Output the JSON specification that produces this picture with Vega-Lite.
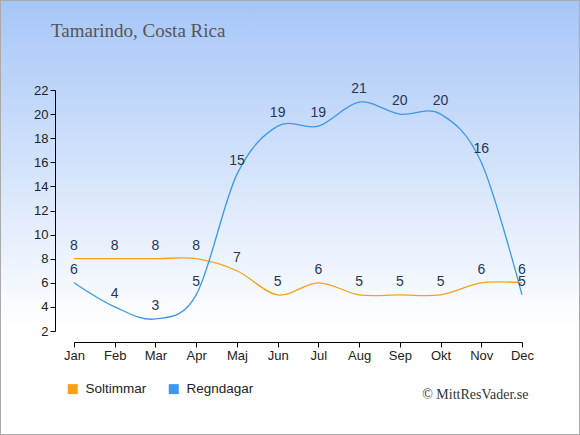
{
  "$schema": "https://vega.github.io/schema/vega-lite/v6.json",
  "width": 580,
  "height": 435,
  "autosize": {"type": "none"},
  "padding": 0,
  "title": {
    "text": "Tamarindo, Costa Rica",
    "anchor": "start",
    "frame": "group",
    "orient": "top",
    "offset": 0,
    "dx": 51,
    "dy": 57,
    "baseline": "alphabetic",
    "font": "Liberation Serif",
    "fontSize": 19,
    "fontWeight": "normal",
    "color": "#555555"
  },
  "data": {
    "values": [
      {"month": "Jan", "series": "Soltimmar", "value": 8},
      {"month": "Feb", "series": "Soltimmar", "value": 8},
      {"month": "Mar", "series": "Soltimmar", "value": 8},
      {"month": "Apr", "series": "Soltimmar", "value": 8},
      {"month": "Maj", "series": "Soltimmar", "value": 7},
      {"month": "Jun", "series": "Soltimmar", "value": 5},
      {"month": "Jul", "series": "Soltimmar", "value": 6},
      {"month": "Aug", "series": "Soltimmar", "value": 5},
      {"month": "Sep", "series": "Soltimmar", "value": 5},
      {"month": "Okt", "series": "Soltimmar", "value": 5},
      {"month": "Nov", "series": "Soltimmar", "value": 6},
      {"month": "Dec", "series": "Soltimmar", "value": 6},
      {"month": "Jan", "series": "Regndagar", "value": 6},
      {"month": "Feb", "series": "Regndagar", "value": 4},
      {"month": "Mar", "series": "Regndagar", "value": 3},
      {"month": "Apr", "series": "Regndagar", "value": 5},
      {"month": "Maj", "series": "Regndagar", "value": 15},
      {"month": "Jun", "series": "Regndagar", "value": 19},
      {"month": "Jul", "series": "Regndagar", "value": 19},
      {"month": "Aug", "series": "Regndagar", "value": 21},
      {"month": "Sep", "series": "Regndagar", "value": 20},
      {"month": "Okt", "series": "Regndagar", "value": 20},
      {"month": "Nov", "series": "Regndagar", "value": 16},
      {"month": "Dec", "series": "Regndagar", "value": 5}
    ]
  },
  "layer": [
    {
      "data": {"values": [{"bg": 1}]},
      "mark": {
        "type": "rect",
        "fill": {
          "gradient": "linear",
          "x1": 0, "y1": 0, "x2": 0, "y2": 1,
          "stops": [
            {"offset": 0, "color": "#a6c6f8"},
            {"offset": 0.75, "color": "#ffffff"},
            {"offset": 1, "color": "#ffffff"}
          ]
        },
        "stroke": "#aaaaaa",
        "strokeWidth": 2
      }
    },
    {
      "mark": {"type": "line", "interpolate": "cardinal", "strokeWidth": 1.3},
      "encoding": {
        "x": {
          "field": "month",
          "type": "ordinal",
          "sort": null,
          "scale": {
            "type": "point",
            "domain": ["Jan", "Feb", "Mar", "Apr", "Maj", "Jun", "Jul", "Aug", "Sep", "Okt", "Nov", "Dec"],
            "range": [74, 522],
            "padding": 0
          },
          "axis": {
            "zindex": 1,
            "offset": -93,
            "labelAngle": 0,
            "labelFont": "Liberation Sans",
            "labelFontSize": 13,
            "labelColor": "#222222",
            "labelPadding": 2,
            "domainColor": "#000000",
            "tickColor": "#000000",
            "tickSize": 5,
            "title": "© MittResVader.se",
            "titleFont": "Liberation Serif",
            "titleFontSize": 14,
            "titleFontWeight": "normal",
            "titleColor": "#333333",
            "titleAnchor": "end",
            "titleAlign": "right",
            "titleX": 528,
            "titleY": 56,
            "titleBaseline": "alphabetic"
          }
        },
        "y": {
          "field": "value",
          "type": "quantitative",
          "scale": {"domain": [2, 22], "range": [331, 90], "nice": false, "zero": false},
          "axis": {
            "zindex": 1,
            "offset": -55,
            "values": [2, 4, 6, 8, 10, 12, 14, 16, 18, 20, 22],
            "grid": false,
            "title": null,
            "labelFont": "Liberation Sans",
            "labelFontSize": 13,
            "labelColor": "#222222",
            "labelPadding": 2,
            "domainColor": "#000000",
            "tickColor": "#000000",
            "tickSize": 5
          }
        },
        "color": {
          "field": "series",
          "type": "nominal",
          "scale": {"domain": ["Soltimmar", "Regndagar"], "range": ["#f7a11a", "#3a98ee"]},
          "legend": {
            "title": null,
            "orient": "none",
            "legendX": 66,
            "legendY": 382,
            "direction": "horizontal",
            "symbolType": "square",
            "symbolSize": 100,
            "symbolStrokeWidth": 0,
            "labelFont": "Liberation Sans",
            "labelFontSize": 13.5,
            "labelColor": "#222222",
            "labelOffset": 6,
            "columnPadding": 20,
            "encode": {
              "symbols": {
                "update": {
                  "fill": {"scale": "color", "field": "value"},
                  "stroke": {"value": "transparent"},
                  "opacity": {"value": 1}
                }
              }
            }
          }
        }
      }
    },
    {
      "mark": {
        "type": "text",
        "dy": -13,
        "baseline": "middle",
        "align": "center",
        "font": "Liberation Sans",
        "fontSize": 14,
        "color": "#25365a"
      },
      "encoding": {
        "x": {"field": "month", "type": "ordinal", "sort": null},
        "y": {"field": "value", "type": "quantitative"},
        "text": {"field": "value", "type": "quantitative"}
      }
    }
  ]
}
